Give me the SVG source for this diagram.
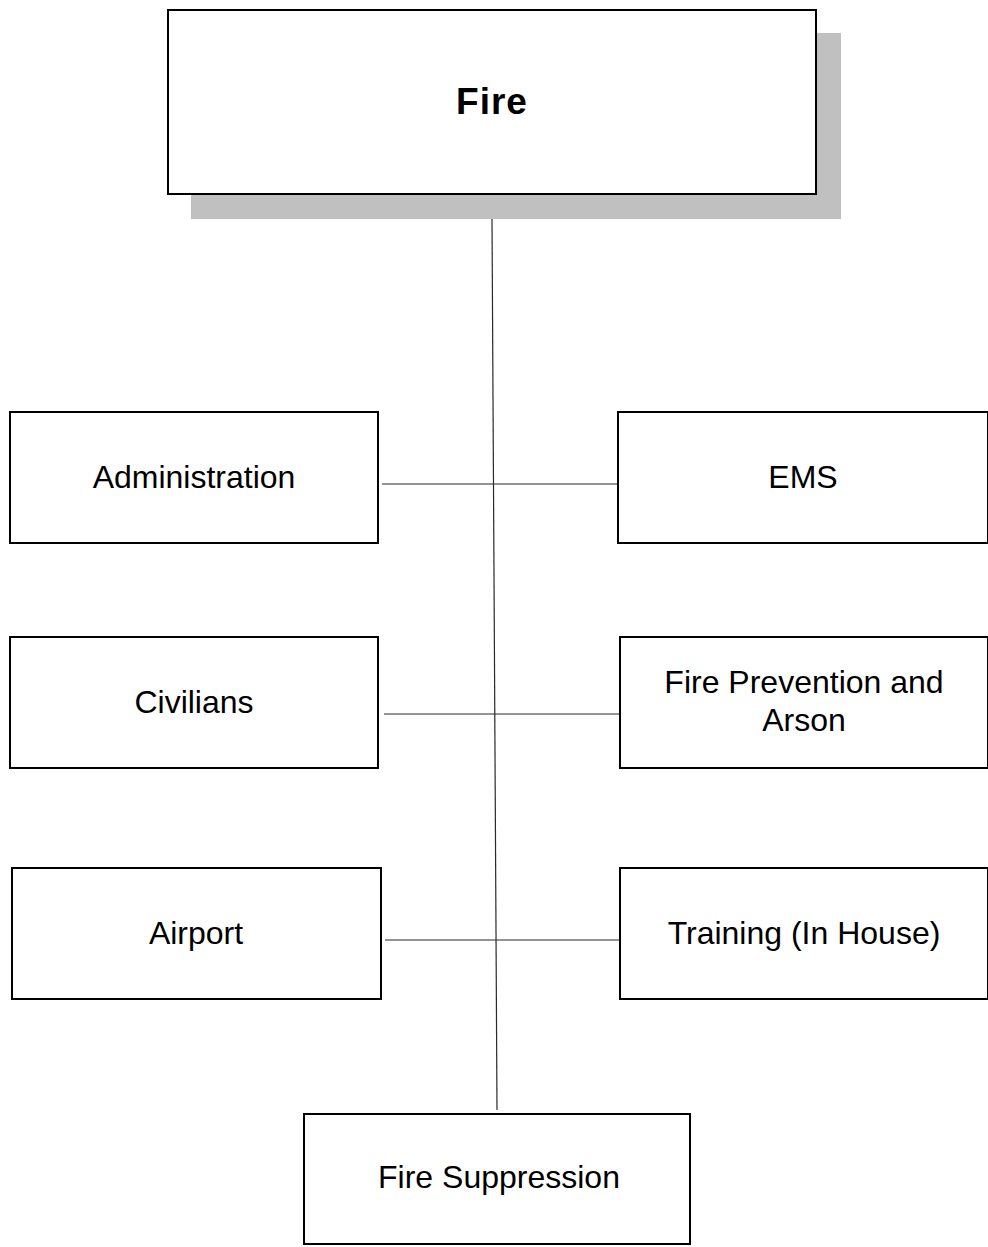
<svg xmlns="http://www.w3.org/2000/svg" width="988" height="1247" viewBox="0 0 988 1247">
  <style>
    .box { fill: #ffffff; stroke: #000000; stroke-width: 2; }
    .shadow { fill: #c0c0c0; }
    .lbl { font-family: "Liberation Sans", Arial, sans-serif; font-size: 32px; fill: #000000; text-anchor: middle; }
    .title { font-family: "Liberation Sans", Arial, sans-serif; font-size: 37px; font-weight: bold; fill: #000000; text-anchor: middle; letter-spacing: 1px; }
    .conn { stroke: #2a2a2a; stroke-width: 1.2; fill: none; }
  </style>
  <rect width="988" height="1247" fill="#ffffff"/>

  <g id="connectors">
    <line class="conn" x1="492" y1="219" x2="497" y2="1110"/>
    <line class="conn" x1="382" y1="484" x2="622" y2="484"/>
    <line class="conn" x1="384" y1="714" x2="623" y2="714"/>
    <line class="conn" x1="385" y1="940" x2="625" y2="940"/>
  </g>

  <g id="fire">
    <rect class="shadow" x="191" y="33" width="650" height="186"/>
    <rect class="box" x="168" y="10" width="648" height="184"/>
    <text class="title" x="492" y="114">Fire</text>
  </g>

  <g id="administration">
    <rect class="box" x="10" y="412" width="368" height="131"/>
    <text class="lbl" x="194" y="488">Administration</text>
  </g>

  <g id="ems">
    <rect class="box" x="618" y="412" width="370" height="131"/>
    <text class="lbl" x="803" y="488">EMS</text>
  </g>

  <g id="civilians">
    <rect class="box" x="10" y="637" width="368" height="131"/>
    <text class="lbl" x="194" y="713">Civilians</text>
  </g>

  <g id="fire-prevention">
    <rect class="box" x="620" y="637" width="368" height="131"/>
    <text class="lbl" x="804" y="693">Fire Prevention and</text>
    <text class="lbl" x="804" y="731">Arson</text>
  </g>

  <g id="airport">
    <rect class="box" x="12" y="868" width="369" height="131"/>
    <text class="lbl" x="196" y="944">Airport</text>
  </g>

  <g id="training">
    <rect class="box" x="620" y="868" width="368" height="131"/>
    <text class="lbl" x="804" y="944">Training (In House)</text>
  </g>

  <g id="fire-suppression">
    <rect class="box" x="304" y="1114" width="386" height="130"/>
    <text class="lbl" x="499" y="1188">Fire Suppression</text>
  </g>
</svg>
